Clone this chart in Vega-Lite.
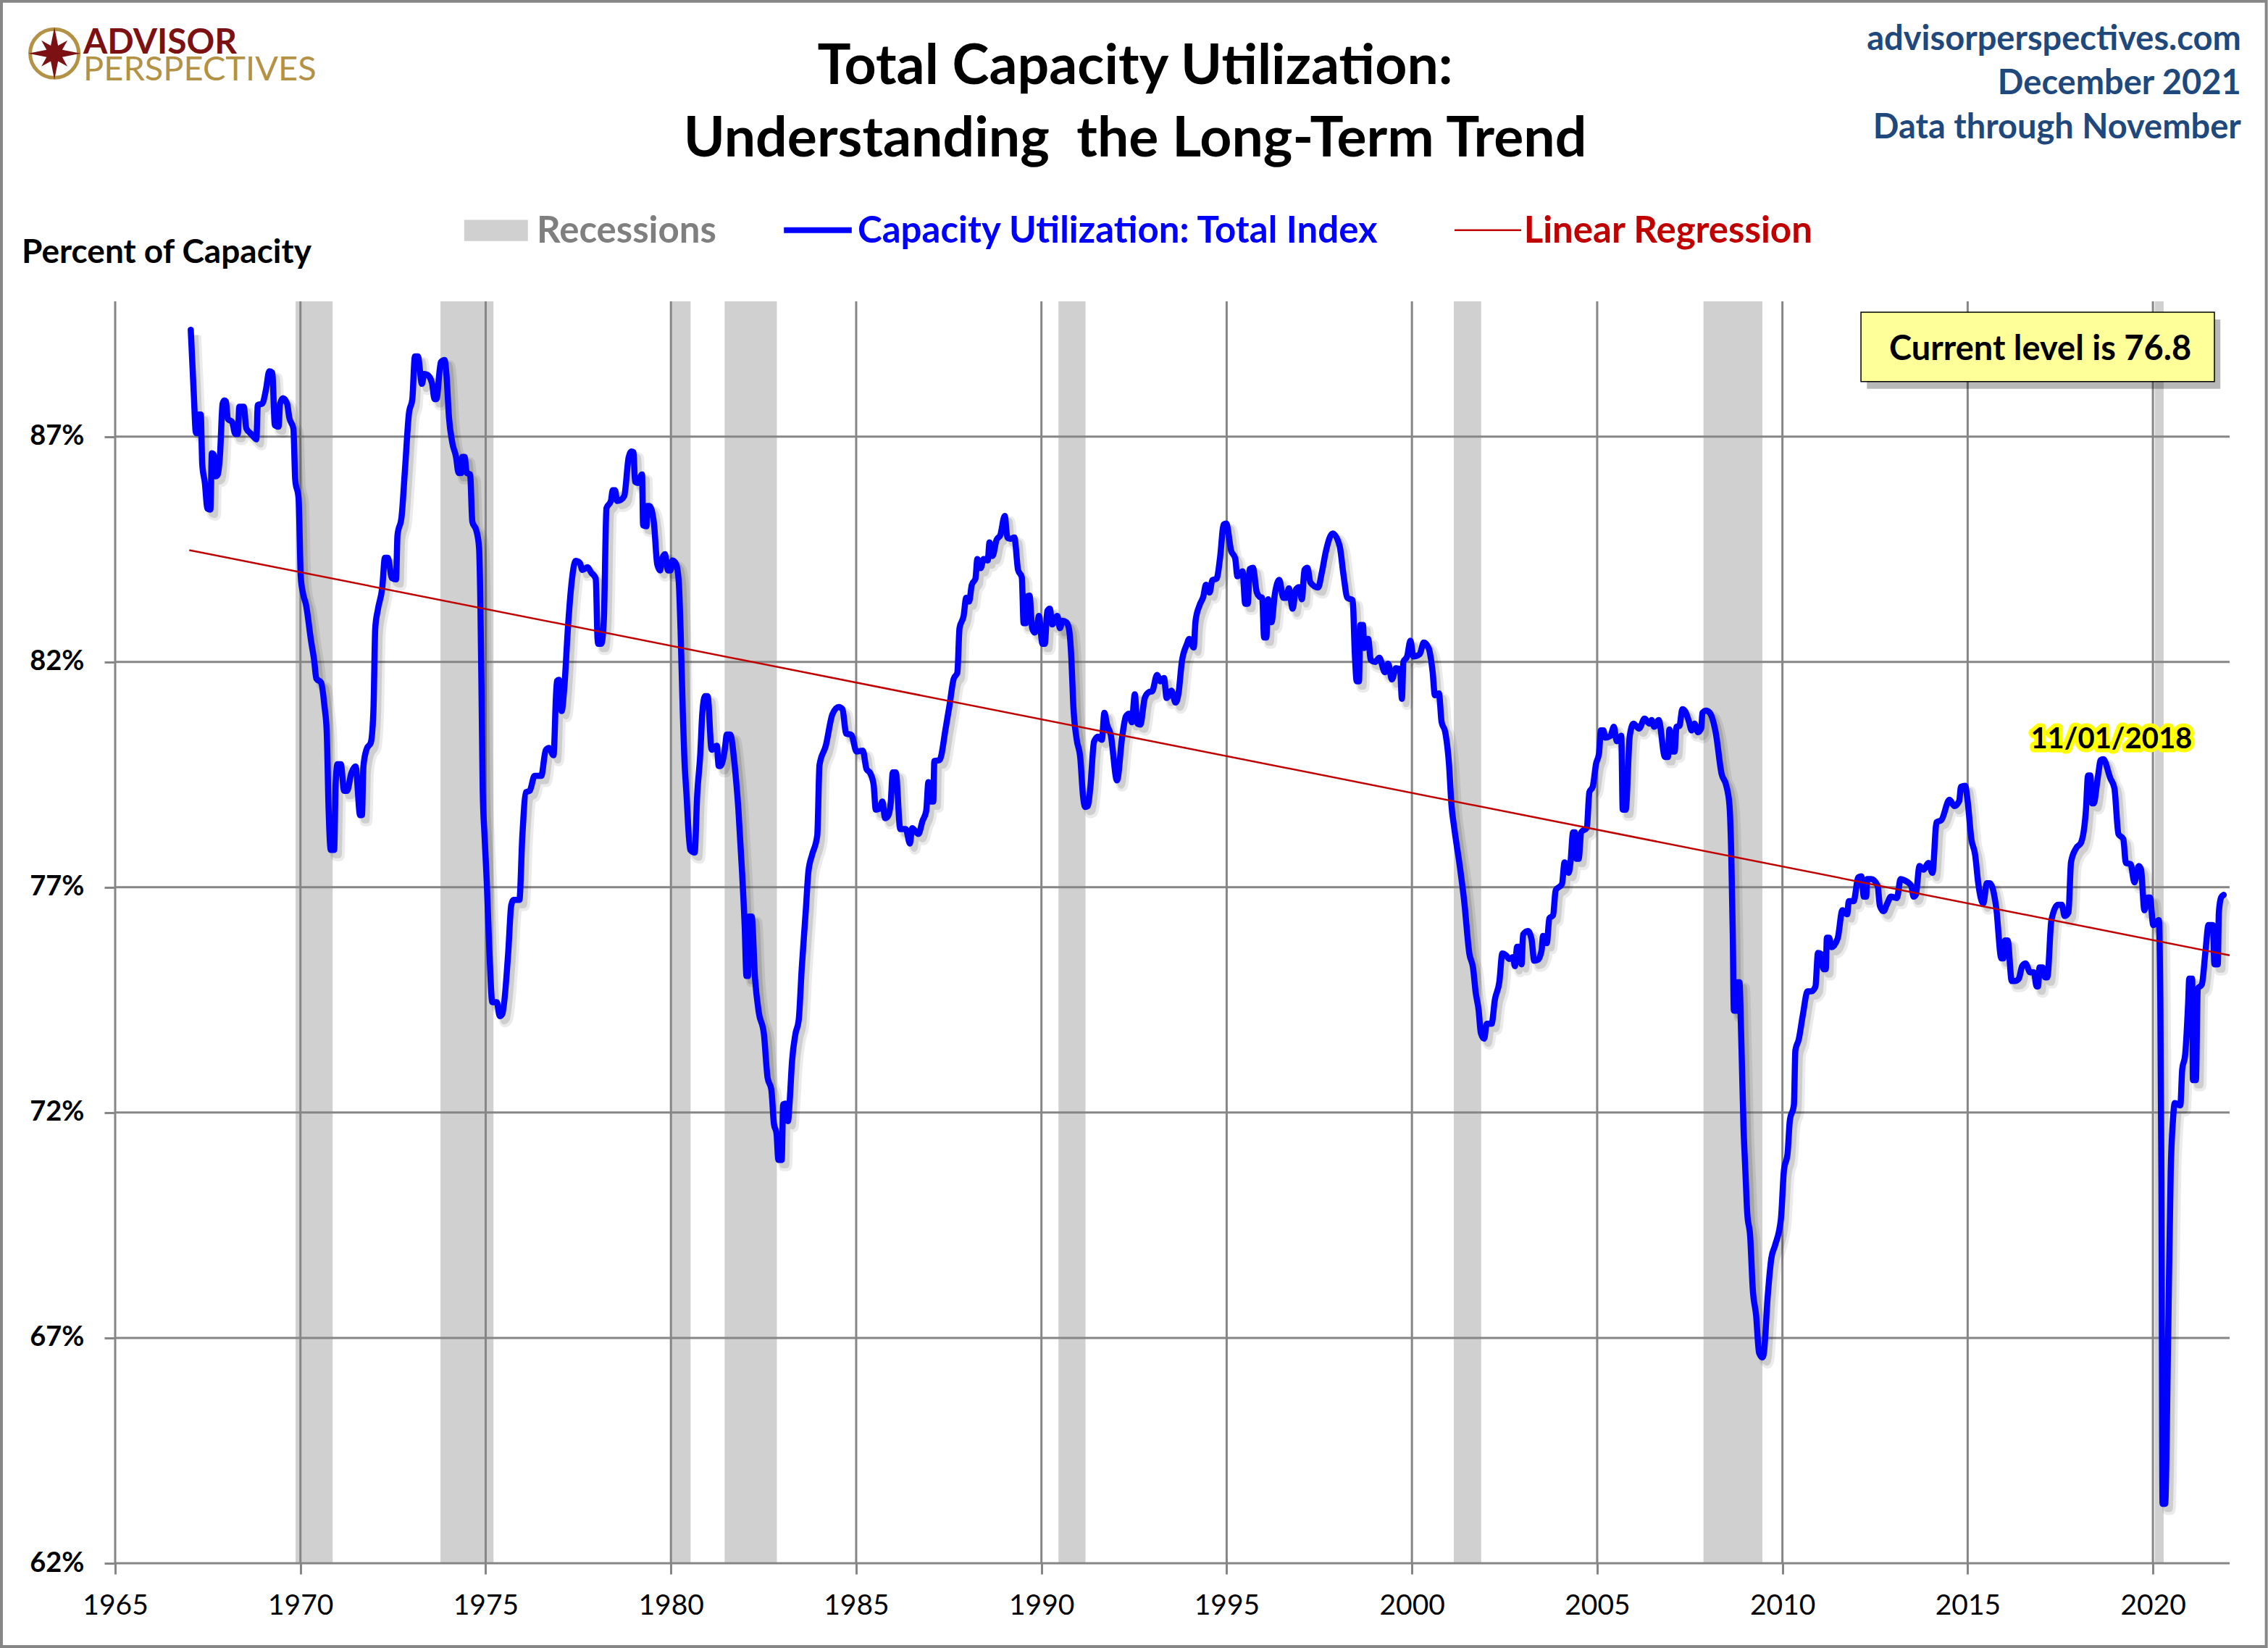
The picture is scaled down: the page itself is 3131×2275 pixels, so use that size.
{
"$schema":"https://vega.github.io/schema/vega-lite/v6.json",
"width":2919,"height":1742,
"autosize":"none",
"padding":{"left":159,"top":416,"right":53,"bottom":117},
"background":"#ffffff",
"config":{"view":{"stroke":null},"text":{"font":"Lato"},"axis":{"labelFont":"Lato"}},
"data":{"values":[{}]},
"datasets":{
"capacity":[
{"year":1967.04,"util":89.37},{"year":1967.12,"util":87.98},{"year":1967.18,"util":87.08},{"year":1967.24,"util":87.08},{"year":1967.26,"util":87.49},{"year":1967.31,"util":87.49},{"year":1967.35,"util":86.39},{"year":1967.42,"util":85.98},{"year":1967.49,"util":85.4},{"year":1967.57,"util":85.38},{"year":1967.61,"util":86.63},{"year":1967.66,"util":86.6},{"year":1967.71,"util":86.12},{"year":1967.77,"util":86.16},{"year":1967.83,"util":86.6},{"year":1967.9,"util":87.73},{"year":1967.95,"util":87.8},{"year":1967.99,"util":87.78},{"year":1968.04,"util":87.39},{"year":1968.16,"util":87.32},{"year":1968.24,"util":87.06},{"year":1968.31,"util":87.06},{"year":1968.35,"util":87.66},{"year":1968.47,"util":87.66},{"year":1968.54,"util":87.18},{"year":1968.64,"util":87.08},{"year":1968.72,"util":87.01},{"year":1968.81,"util":86.94},{"year":1968.85,"util":87.7},{"year":1968.97,"util":87.73},{"year":1969.07,"util":88.04},{"year":1969.16,"util":88.45},{"year":1969.24,"util":88.42},{"year":1969.31,"util":87.25},{"year":1969.41,"util":87.22},{"year":1969.45,"util":87.73},{"year":1969.53,"util":87.85},{"year":1969.64,"util":87.73},{"year":1969.7,"util":87.42},{"year":1969.81,"util":87.18},{"year":1969.86,"util":86.04},{"year":1969.95,"util":85.63},{"year":1970.01,"util":83.88},{"year":1970.07,"util":83.52},{"year":1970.15,"util":83.27},{"year":1970.29,"util":82.45},{"year":1970.37,"util":82.04},{"year":1970.43,"util":81.63},{"year":1970.56,"util":81.54},{"year":1970.65,"util":81.01},{"year":1970.71,"util":80.45},{"year":1970.76,"util":78.75},{"year":1970.82,"util":77.83},{"year":1970.91,"util":77.83},{"year":1970.95,"util":79.27},{"year":1971.0,"util":79.73},{"year":1971.09,"util":79.73},{"year":1971.18,"util":79.14},{"year":1971.26,"util":79.14},{"year":1971.37,"util":79.52},{"year":1971.49,"util":79.68},{"year":1971.61,"util":78.6},{"year":1971.66,"util":78.6},{"year":1971.7,"util":79.68},{"year":1971.79,"util":80.07},{"year":1971.9,"util":80.21},{"year":1971.97,"util":80.91},{"year":1972.02,"util":82.75},{"year":1972.09,"util":83.16},{"year":1972.21,"util":83.66},{"year":1972.28,"util":84.31},{"year":1972.36,"util":84.31},{"year":1972.47,"util":83.86},{"year":1972.58,"util":83.83},{"year":1972.62,"util":84.81},{"year":1972.73,"util":85.22},{"year":1972.82,"util":86.24},{"year":1972.93,"util":87.52},{"year":1973.02,"util":87.83},{"year":1973.09,"util":88.78},{"year":1973.17,"util":88.78},{"year":1973.28,"util":88.17},{"year":1973.34,"util":88.39},{"year":1973.43,"util":88.37},{"year":1973.55,"util":88.19},{"year":1973.62,"util":87.83},{"year":1973.67,"util":87.83},{"year":1973.79,"util":88.65},{"year":1973.89,"util":88.7},{"year":1973.94,"util":88.39},{"year":1974.01,"util":87.42},{"year":1974.1,"util":86.86},{"year":1974.2,"util":86.55},{"year":1974.27,"util":86.19},{"year":1974.34,"util":86.19},{"year":1974.37,"util":86.55},{"year":1974.43,"util":86.55},{"year":1974.49,"util":86.19},{"year":1974.58,"util":86.16},{"year":1974.64,"util":85.11},{"year":1974.75,"util":84.91},{"year":1974.82,"util":84.55},{"year":1974.86,"util":83.16},{"year":1974.89,"util":81.22},{"year":1974.92,"util":79.16},{"year":1974.97,"util":78.14},{"year":1975.03,"util":77.11},{"year":1975.1,"util":75.57},{"year":1975.18,"util":74.45},{"year":1975.3,"util":74.45},{"year":1975.38,"util":74.14},{"year":1975.45,"util":74.19},{"year":1975.61,"util":75.57},{"year":1975.69,"util":76.6},{"year":1975.75,"util":76.72},{"year":1975.91,"util":76.72},{"year":1975.99,"util":78.14},{"year":1976.09,"util":79.11},{"year":1976.19,"util":79.14},{"year":1976.32,"util":79.47},{"year":1976.5,"util":79.47},{"year":1976.62,"util":80.04},{"year":1976.71,"util":80.09},{"year":1976.83,"util":79.93},{"year":1976.92,"util":81.57},{"year":1976.98,"util":81.6},{"year":1977.05,"util":80.91},{"year":1977.12,"util":81.4},{"year":1977.22,"util":82.75},{"year":1977.3,"util":83.6},{"year":1977.43,"util":84.24},
{"year":1977.54,"util":84.2},{"year":1977.61,"util":84.04},{"year":1977.75,"util":84.1},{"year":1977.85,"util":83.98},{"year":1977.97,"util":83.85},{"year":1978.02,"util":82.51},{"year":1978.04,"util":82.4},{"year":1978.12,"util":82.4},{"year":1978.19,"util":82.94},{"year":1978.26,"util":85.41},{"year":1978.38,"util":85.57},{"year":1978.43,"util":85.81},{"year":1978.49,"util":85.81},{"year":1978.55,"util":85.57},{"year":1978.64,"util":85.59},{"year":1978.74,"util":85.68},{"year":1978.86,"util":86.54},{"year":1978.93,"util":86.67},{"year":1978.99,"util":86.65},{"year":1979.03,"util":86.0},{"year":1979.1,"util":85.97},{"year":1979.22,"util":86.16},{"year":1979.25,"util":85.03},{"year":1979.34,"util":85.01},{"year":1979.36,"util":85.46},{"year":1979.42,"util":85.46},{"year":1979.54,"util":85.09},{"year":1979.63,"util":84.17},{"year":1979.71,"util":84.03},{"year":1979.75,"util":84.25},{"year":1979.84,"util":84.39},{"year":1979.92,"util":84.03},{"year":1979.99,"util":84.03},{"year":1980.04,"util":84.25},{"year":1980.14,"util":84.17},{"year":1980.21,"util":83.8},{"year":1980.26,"util":82.72},{"year":1980.32,"util":80.89},{"year":1980.36,"util":79.92},{"year":1980.42,"util":79.06},{"year":1980.52,"util":77.83},{"year":1980.64,"util":77.77},{"year":1980.71,"util":79.06},{"year":1980.79,"util":79.92},{"year":1980.85,"util":80.89},{"year":1980.92,"util":81.24},{"year":1980.99,"util":81.24},{"year":1981.1,"util":80.05},{"year":1981.24,"util":80.14},{"year":1981.29,"util":79.69},{"year":1981.34,"util":79.69},{"year":1981.45,"util":80.03},{"year":1981.51,"util":80.39},{"year":1981.6,"util":80.39},{"year":1981.72,"util":79.71},{"year":1981.82,"util":78.74},{"year":1981.92,"util":77.34},{"year":1981.99,"util":76.16},{"year":1982.04,"util":75.03},{"year":1982.08,"util":75.03},{"year":1982.11,"util":76.35},{"year":1982.18,"util":76.35},{"year":1982.27,"util":74.98},{"year":1982.37,"util":74.23},{"year":1982.51,"util":73.74},{"year":1982.61,"util":72.77},{"year":1982.71,"util":72.51},{"year":1982.78,"util":71.75},{"year":1982.85,"util":71.54},{"year":1982.9,"util":70.95},{"year":1982.99,"util":70.95},{"year":1983.03,"util":72.18},{"year":1983.09,"util":72.2},{"year":1983.16,"util":71.81},{"year":1983.2,"util":72.18},{"year":1983.27,"util":73.15},{"year":1983.36,"util":73.74},{"year":1983.45,"util":74.06},{"year":1983.53,"util":75.19},{"year":1983.64,"util":76.48},{"year":1983.71,"util":77.34},{"year":1983.81,"util":77.72},{"year":1983.95,"util":78.15},{"year":1984.01,"util":79.71},{"year":1984.18,"util":80.14},{"year":1984.36,"util":80.84},{"year":1984.53,"util":81.0},{"year":1984.63,"util":80.95},{"year":1984.73,"util":80.41},{"year":1984.87,"util":80.38},{"year":1985.01,"util":80.01},{"year":1985.18,"util":80.03},{"year":1985.28,"util":79.62},{"year":1985.38,"util":79.53},{"year":1985.47,"util":79.28},{"year":1985.53,"util":78.72},{"year":1985.62,"util":78.74},{"year":1985.71,"util":78.9},{"year":1985.78,"util":78.53},{"year":1985.86,"util":78.58},{"year":1985.93,"util":78.85},{"year":1985.99,"util":79.55},{"year":1986.07,"util":79.55},{"year":1986.19,"util":78.29},{"year":1986.34,"util":78.29},{"year":1986.45,"util":77.97},{"year":1986.51,"util":78.31},{"year":1986.68,"util":78.18},{"year":1986.79,"util":78.47},{"year":1986.89,"util":78.69},{"year":1986.95,"util":79.33},{"year":1987.03,"util":78.9},{"year":1987.08,"util":78.9},{"year":1987.11,"util":79.8},{"year":1987.25,"util":79.82},
{"year":1987.42,"util":80.55},{"year":1987.52,"util":81.04},{"year":1987.63,"util":81.62},{"year":1987.73,"util":81.76},{"year":1987.79,"util":82.75},{"year":1987.9,"util":83.02},{"year":1987.97,"util":83.42},{"year":1988.05,"util":83.34},{"year":1988.12,"util":83.71},{"year":1988.22,"util":83.85},{"year":1988.27,"util":84.28},{"year":1988.36,"util":84.08},{"year":1988.44,"util":84.28},{"year":1988.55,"util":84.25},{"year":1988.6,"util":84.65},{"year":1988.68,"util":84.35},{"year":1988.79,"util":84.71},{"year":1988.89,"util":84.81},{"year":1989.01,"util":85.24},{"year":1989.08,"util":84.76},{"year":1989.16,"util":84.73},{"year":1989.27,"util":84.76},{"year":1989.37,"util":84.04},{"year":1989.47,"util":83.88},{"year":1989.52,"util":82.86},{"year":1989.58,"util":82.86},{"year":1989.61,"util":83.45},{"year":1989.68,"util":83.47},{"year":1989.75,"util":82.75},{"year":1989.82,"util":82.65},{"year":1989.88,"util":82.75},{"year":1989.93,"util":83.02},{"year":1990.03,"util":82.4},{"year":1990.09,"util":82.4},{"year":1990.16,"util":83.13},{"year":1990.23,"util":83.18},{"year":1990.29,"util":82.83},{"year":1990.43,"util":83.02},{"year":1990.5,"util":82.75},{"year":1990.57,"util":82.91},{"year":1990.67,"util":82.88},{"year":1990.74,"util":82.75},{"year":1990.81,"util":82.05},{"year":1990.86,"util":81.04},{"year":1990.95,"util":80.29},{"year":1991.05,"util":79.86},{"year":1991.12,"util":79.05},{"year":1991.18,"util":78.78},{"year":1991.25,"util":78.8},{"year":1991.32,"util":79.21},{"year":1991.42,"util":80.23},{"year":1991.53,"util":80.34},{"year":1991.63,"util":80.27},{"year":1991.7,"util":80.87},{"year":1991.77,"util":80.61},{"year":1991.87,"util":80.39},{"year":1992.04,"util":79.37},{"year":1992.18,"util":80.34},{"year":1992.28,"util":80.79},{"year":1992.37,"util":80.85},{"year":1992.44,"util":80.66},{"year":1992.52,"util":81.28},{"year":1992.59,"util":80.63},{"year":1992.67,"util":80.61},{"year":1992.79,"util":81.2},{"year":1992.9,"util":81.33},{"year":1992.99,"util":81.35},{"year":1993.12,"util":81.71},{"year":1993.21,"util":81.57},{"year":1993.31,"util":81.64},{"year":1993.38,"util":81.2},{"year":1993.51,"util":81.36},{"year":1993.62,"util":81.1},{"year":1993.7,"util":81.3},{"year":1993.79,"util":82.0},{"year":1993.92,"util":82.38},{"year":1993.99,"util":82.51},{"year":1994.11,"util":82.32},{"year":1994.16,"util":82.91},{"year":1994.27,"util":83.26},{"year":1994.37,"util":83.45},{"year":1994.44,"util":83.71},{"year":1994.54,"util":83.54},{"year":1994.61,"util":83.81},{"year":1994.73,"util":83.85},{"year":1994.82,"util":84.3},{"year":1994.92,"util":85.05},{"year":1994.99,"util":85.07},{"year":1995.12,"util":84.47},{"year":1995.23,"util":84.3},{"year":1995.29,"util":83.9},{"year":1995.43,"util":84.01},{"year":1995.5,"util":83.29},{"year":1995.57,"util":83.29},{"year":1995.62,"util":84.06},{"year":1995.71,"util":84.09},{"year":1995.81,"util":83.55},{"year":1995.88,"util":83.45},{"year":1995.96,"util":83.42},{"year":1996.01,"util":82.54},{"year":1996.07,"util":82.54},{"year":1996.12,"util":83.39},{"year":1996.21,"util":82.88},{"year":1996.3,"util":83.5},{"year":1996.42,"util":83.82},{"year":1996.53,"util":83.42},{"year":1996.6,"util":83.42},{"year":1996.68,"util":83.63},{"year":1996.78,"util":83.18},{"year":1996.87,"util":83.61},{"year":1996.96,"util":83.66},{"year":1997.03,"util":83.39},{"year":1997.1,"util":84.04},{"year":1997.18,"util":84.09},
{"year":1997.26,"util":83.76},{"year":1997.47,"util":83.65},{"year":1997.57,"util":83.99},{"year":1997.68,"util":84.46},{"year":1997.86,"util":84.85},{"year":1998.05,"util":84.57},{"year":1998.15,"util":83.95},{"year":1998.26,"util":83.42},{"year":1998.4,"util":83.37},{"year":1998.46,"util":82.16},{"year":1998.51,"util":81.57},{"year":1998.57,"util":81.57},{"year":1998.61,"util":82.82},{"year":1998.68,"util":82.82},{"year":1998.71,"util":82.31},{"year":1998.77,"util":82.51},{"year":1998.82,"util":82.51},{"year":1998.89,"util":82.04},{"year":1999.01,"util":82.0},{"year":1999.12,"util":82.09},{"year":1999.27,"util":81.77},{"year":1999.36,"util":81.96},{"year":1999.46,"util":81.61},{"year":1999.57,"util":81.86},{"year":1999.68,"util":81.84},{"year":1999.73,"util":81.18},{"year":1999.77,"util":82.0},{"year":1999.87,"util":82.12},{"year":1999.96,"util":82.47},{"year":2000.04,"util":82.12},{"year":2000.21,"util":82.17},{"year":2000.32,"util":82.43},{"year":2000.45,"util":82.31},{"year":2000.56,"util":81.77},{"year":2000.62,"util":81.26},{"year":2000.73,"util":81.3},{"year":2000.8,"util":80.67},{"year":2000.9,"util":80.44},{"year":2001.0,"util":79.74},{"year":2001.07,"util":78.8},{"year":2001.14,"util":78.33},{"year":2001.29,"util":77.48},{"year":2001.41,"util":76.7},{"year":2001.55,"util":75.53},{"year":2001.65,"util":75.21},{"year":2001.72,"util":74.67},{"year":2001.8,"util":74.28},{"year":2001.86,"util":73.77},{"year":2001.95,"util":73.64},{"year":2002.02,"util":73.97},{"year":2002.15,"util":73.97},{"year":2002.24,"util":74.51},{"year":2002.36,"util":74.9},{"year":2002.44,"util":75.53},{"year":2002.54,"util":75.49},{"year":2002.63,"util":75.41},{"year":2002.73,"util":75.45},{"year":2002.78,"util":75.25},{"year":2002.84,"util":75.68},{"year":2002.91,"util":75.68},{"year":2002.96,"util":75.29},{"year":2003.0,"util":75.95},{"year":2003.13,"util":76.03},{"year":2003.23,"util":75.84},{"year":2003.3,"util":75.37},{"year":2003.4,"util":75.39},{"year":2003.5,"util":75.6},{"year":2003.54,"util":75.92},{"year":2003.64,"util":75.76},{"year":2003.71,"util":76.31},{"year":2003.81,"util":76.38},{"year":2003.88,"util":76.93},{"year":2004.05,"util":77.07},{"year":2004.12,"util":77.55},{"year":2004.23,"util":77.32},{"year":2004.28,"util":77.55},{"year":2004.35,"util":78.22},{"year":2004.4,"util":78.22},{"year":2004.44,"util":77.63},{"year":2004.5,"util":77.63},{"year":2004.57,"util":78.22},{"year":2004.72,"util":78.32},{"year":2004.79,"util":79.11},{"year":2004.88,"util":79.23},{"year":2004.97,"util":79.74},{"year":2005.05,"util":79.97},{"year":2005.1,"util":80.48},{"year":2005.17,"util":80.48},{"year":2005.22,"util":80.32},{"year":2005.36,"util":80.36},{"year":2005.45,"util":80.56},{"year":2005.53,"util":80.24},{"year":2005.65,"util":80.36},{"year":2005.69,"util":78.72},{"year":2005.77,"util":78.72},{"year":2005.88,"util":80.36},{"year":2005.98,"util":80.63},{"year":2006.13,"util":80.52},{"year":2006.28,"util":80.74},{"year":2006.41,"util":80.63},{"year":2006.47,"util":80.71},{"year":2006.54,"util":80.56},{"year":2006.66,"util":80.71},{"year":2006.83,"util":79.89},{"year":2006.91,"util":79.89},{"year":2006.95,"util":80.5},{"year":2007.03,"util":80.01},{"year":2007.09,"util":80.01},{"year":2007.14,"util":80.56},{"year":2007.22,"util":80.58},{"year":2007.3,"util":80.95},{"year":2007.37,"util":80.91},{"year":2007.48,"util":80.67},{"year":2007.55,"util":80.48},{"year":2007.63,"util":80.63},{"year":2007.72,"util":80.44},{"year":2007.81,"util":80.53},
{"year":2007.84,"util":80.87},{"year":2007.94,"util":80.92},{"year":2008.04,"util":80.87},{"year":2008.2,"util":80.43},{"year":2008.36,"util":79.51},{"year":2008.48,"util":79.27},{"year":2008.57,"util":78.83},{"year":2008.62,"util":77.71},{"year":2008.66,"util":75.96},{"year":2008.69,"util":74.26},{"year":2008.76,"util":74.26},{"year":2008.79,"util":74.89},{"year":2008.84,"util":74.89},{"year":2008.89,"util":73.62},{"year":2008.95,"util":71.68},{"year":2009.0,"util":70.71},{"year":2009.05,"util":69.78},{"year":2009.13,"util":69.25},{"year":2009.2,"util":68.08},{"year":2009.29,"util":67.5},{"year":2009.37,"util":66.67},{"year":2009.46,"util":66.57},{"year":2009.5,"util":66.67},{"year":2009.6,"util":67.89},{"year":2009.7,"util":68.76},{"year":2009.8,"util":69.05},{"year":2009.96,"util":69.64},{"year":2010.04,"util":70.71},{"year":2010.14,"util":71.1},{"year":2010.2,"util":71.82},{"year":2010.31,"util":72.17},{"year":2010.35,"util":73.38},{"year":2010.44,"util":73.62},{"year":2010.55,"util":74.16},{"year":2010.68,"util":74.69},{"year":2010.78,"util":74.69},{"year":2010.89,"util":74.79},{"year":2010.96,"util":75.54},{"year":2011.04,"util":75.52},{"year":2011.11,"util":75.18},{"year":2011.17,"util":75.18},{"year":2011.2,"util":75.88},{"year":2011.26,"util":75.88},{"year":2011.33,"util":75.67},{"year":2011.49,"util":75.86},{"year":2011.62,"util":76.49},{"year":2011.75,"util":76.4},{"year":2011.79,"util":76.69},{"year":2011.92,"util":76.69},{"year":2012.05,"util":77.22},{"year":2012.13,"util":77.24},{"year":2012.2,"util":76.79},{"year":2012.26,"util":76.79},{"year":2012.29,"util":77.18},{"year":2012.4,"util":77.18},{"year":2012.57,"util":77.03},{"year":2012.63,"util":76.59},{"year":2012.73,"util":76.47},{"year":2012.83,"util":76.64},{"year":2012.93,"util":76.79},{"year":2013.09,"util":76.76},{"year":2013.19,"util":77.18},{"year":2013.28,"util":77.16},{"year":2013.48,"util":77.03},{"year":2013.54,"util":76.79},{"year":2013.6,"util":76.83},{"year":2013.7,"util":77.47},{"year":2013.81,"util":77.39},{"year":2013.94,"util":77.54},{"year":2014.05,"util":77.32},
{"year":2014.16,"util":78.44},{"year":2014.29,"util":78.49},{"year":2014.51,"util":78.94},{"year":2014.64,"util":78.8},{"year":2014.77,"util":78.91},{"year":2014.82,"util":79.23},{"year":2014.93,"util":79.25},{"year":2015.0,"util":78.91},{"year":2015.1,"util":78.07},{"year":2015.2,"util":77.73},{"year":2015.29,"util":77.06},{"year":2015.42,"util":76.64},{"year":2015.52,"util":77.09},{"year":2015.6,"util":77.09},{"year":2015.77,"util":76.55},{"year":2015.91,"util":75.42},{"year":2015.96,"util":75.42},{"year":2016.01,"util":75.82},{"year":2016.08,"util":75.82},{"year":2016.19,"util":74.92},{"year":2016.29,"util":74.92},{"year":2016.38,"util":74.97},{"year":2016.47,"util":75.25},{"year":2016.56,"util":75.31},{"year":2016.69,"util":75.11},{"year":2016.79,"util":75.11},{"year":2016.86,"util":74.8},{"year":2016.9,"util":74.8},{"year":2016.94,"util":75.22},{"year":2017.02,"util":75.22},{"year":2017.09,"util":75.0},{"year":2017.15,"util":75.0},{"year":2017.26,"util":76.27},{"year":2017.44,"util":76.61},{"year":2017.54,"util":76.61},{"year":2017.62,"util":76.36},{"year":2017.72,"util":76.44},{"year":2017.79,"util":77.56},{"year":2017.93,"util":77.87},{"year":2018.06,"util":77.99},{"year":2018.19,"util":78.69},{"year":2018.25,"util":79.48},{"year":2018.31,"util":79.48},{"year":2018.36,"util":78.86},{"year":2018.4,"util":78.86},{"year":2018.52,"util":79.48},{"year":2018.59,"util":79.82},{"year":2018.66,"util":79.84},{"year":2018.85,"util":79.42},{"year":2018.96,"util":79.2},{"year":2019.07,"util":78.18},{"year":2019.2,"util":78.07},{"year":2019.27,"util":77.54},{"year":2019.4,"util":77.51},{"year":2019.5,"util":77.11},{"year":2019.62,"util":77.47},{"year":2019.68,"util":77.39},{"year":2019.77,"util":76.49},{"year":2019.86,"util":76.77},{"year":2019.92,"util":76.77},{"year":2020.01,"util":76.16},{"year":2020.16,"util":76.27},{"year":2020.2,"util":74.41},{"year":2020.23,"util":70.47},{"year":2020.26,"util":63.32},{"year":2020.33,"util":63.32},{"year":2020.41,"util":66.98},{"year":2020.48,"util":70.69},{"year":2020.54,"util":71.82},{"year":2020.59,"util":72.21},{"year":2020.74,"util":72.16},{"year":2020.79,"util":72.95},{"year":2020.87,"util":73.28},{"year":2020.95,"util":74.41},{"year":2020.98,"util":74.97},{"year":2021.06,"util":74.97},{"year":2021.08,"util":72.72},{"year":2021.16,"util":72.72},{"year":2021.21,"util":74.75},{"year":2021.32,"util":74.84},{"year":2021.42,"util":75.59},{"year":2021.5,"util":76.16},{"year":2021.62,"util":76.16},{"year":2021.66,"util":75.29},{"year":2021.75,"util":75.29},{"year":2021.78,"util":76.44},{"year":2021.84,"util":76.77},{"year":2021.91,"util":76.83}
],
"recessions":[
{"start":1969.87,"end":1970.87},{"start":1973.78,"end":1975.21},{"start":1979.98,"end":1980.53},{"start":1981.45,"end":1982.86},{"start":1990.46,"end":1991.19},{"start":2001.13,"end":2001.87},{"start":2007.87,"end":2009.46},{"start":2020.05,"end":2020.29}
],
"regression":[{"year":1967.0,"util":84.48},{"year":2022.07,"util":75.49}],
"years":[{"year":1965},{"year":1970},{"year":1975},{"year":1980},{"year":1985},{"year":1990},{"year":1995},{"year":2000},{"year":2005},{"year":2010},{"year":2015},{"year":2020}],
"levels":[{"util":62},{"util":67},{"util":72},{"util":77},{"util":82},{"util":87}]
},
"layer":[
{"data":{"name":"recessions"},"mark":{"type":"rect","color":"#d0d0d0"},
 "encoding":{"x":{"field":"start","type":"quantitative","scale":{"domain":[1965,2022.07],"nice":false,"zero":false},
   "axis":{"values":[1965,1970,1975,1980,1985,1990,1995,2000,2005,2010,2015,2020],"format":"d","title":null,"grid":false,"domain":false,"tickColor":"#868686","tickWidth":3,"tickSize":15,"labelFontSize":39,"labelColor":"#000000","labelPadding":24,"labelFlush":false,"labelFont":"Lato"}},
  "x2":{"field":"end"},
  "y":{"datum":62,"type":"quantitative","scale":{"domain":[62,90],"nice":false,"zero":false},
   "axis":{"values":[62,67,72,77,82,87],"labelExpr":"datum.value + '%'","title":null,"grid":false,"domain":false,"tickColor":"#868686","tickWidth":3,"tickSize":15,"labelFontSize":38,"labelFontWeight":"bold","labelColor":"#000000","labelPadding":28,"labelFont":"Lato"}},
  "y2":{"datum":90}}},
{"data":{"name":"levels"},"mark":{"type":"rule","color":"#868686","strokeWidth":3},
 "encoding":{"y":{"field":"util","type":"quantitative"},"x":{"datum":1965,"type":"quantitative"},"x2":{"datum":2022.07}}},
{"data":{"name":"years"},"mark":{"type":"rule","color":"#868686","strokeWidth":3},
 "encoding":{"x":{"field":"year","type":"quantitative"},"y":{"datum":62,"type":"quantitative"},"y2":{"datum":90}}},
{"data":{"name":"capacity"},"mark":{"type":"line","color":"#000000","opacity":0.08,"strokeWidth":15,"xOffset":7,"yOffset":8,"strokeJoin":"round","interpolate":"monotone"},
 "encoding":{"x":{"field":"year","type":"quantitative"},"y":{"field":"util","type":"quantitative"}}},
{"data":{"name":"capacity"},"mark":{"type":"line","color":"#000000","opacity":0.12,"strokeWidth":9,"xOffset":6,"yOffset":7,"strokeJoin":"round","interpolate":"monotone"},
 "encoding":{"x":{"field":"year","type":"quantitative"},"y":{"field":"util","type":"quantitative"}}},
{"data":{"name":"capacity"},"mark":{"type":"line","color":"#0000ff","strokeWidth":8.5,"strokeJoin":"round","strokeCap":"round","interpolate":"monotone"},
 "encoding":{"x":{"field":"year","type":"quantitative"},"y":{"field":"util","type":"quantitative"}}},
{"data":{"name":"regression"},"mark":{"type":"line","color":"#c00000","strokeWidth":2.5},
 "encoding":{"x":{"field":"year","type":"quantitative"},"y":{"field":"util","type":"quantitative"}}},
{"mark":{"type":"rect","fillOpacity":0,"stroke":"#868686","strokeWidth":4},
 "encoding":{"x":{"datum":1961.93,"type":"quantitative"},"x2":{"datum":2023.06},"y":{"datum":96.66,"type":"quantitative"},"y2":{"datum":60.15}}},
{"mark":{"type":"rect","color":"#000000","opacity":0.28},
 "encoding":{"x":{"datum":2012.28,"type":"quantitative"},"x2":{"datum":2021.82},"y":{"datum":89.6,"type":"quantitative"},"y2":{"datum":88.06}}},
{"mark":{"type":"rect","fill":"#ffff99","stroke":"#000000","strokeWidth":1.5},
 "encoding":{"x":{"datum":2012.12,"type":"quantitative"},"x2":{"datum":2021.66},"y":{"datum":89.76,"type":"quantitative"},"y2":{"datum":88.22}}},
{"mark":{"type":"text","fontSize":47,"fontWeight":"bold","color":"#000000","align":"center","baseline":"middle"},
 "encoding":{"x":{"datum":2016.96,"type":"quantitative"},"y":{"datum":88.92,"type":"quantitative"},"text":{"value":"Current level is 76.8"}}},
{"mark":{"type":"text","fontSize":40,"fontWeight":"bold","stroke":"#ffff00","strokeWidth":11,"strokeJoin":"round","align":"center","baseline":"middle"},
 "encoding":{"x":{"datum":2018.88,"type":"quantitative"},"y":{"datum":80.27,"type":"quantitative"},"text":{"value":"11/01/2018"}}},
{"mark":{"type":"text","fontSize":40,"fontWeight":"bold","color":"#000000","align":"center","baseline":"middle"},
 "encoding":{"x":{"datum":2018.88,"type":"quantitative"},"y":{"datum":80.27,"type":"quantitative"},"text":{"value":"11/01/2018"}}},
{"mark":{"type":"text","fontSize":77,"fontWeight":"bold","color":"#000000","align":"center","baseline":"middle","lineHeight":100},
 "encoding":{"x":{"datum":1992.53,"type":"quantitative"},"y":{"datum":95.19,"type":"quantitative"},"text":{"value":["Total Capacity Utilization:","Understanding\u00a0 the Long-Term Trend"]}}},
{"mark":{"type":"text","fontSize":47,"fontWeight":"bold","color":"#1f497d","align":"right","baseline":"middle","lineHeight":61},
 "encoding":{"x":{"datum":2022.38,"type":"quantitative"},"y":{"datum":95.8,"type":"quantitative"},"text":{"value":["advisorperspectives.com","December 2021","Data through November"]}}},
{"mark":{"type":"text","fontSize":46,"fontWeight":"bold","color":"#000000","align":"left","baseline":"middle"},
 "encoding":{"x":{"datum":1962.48,"type":"quantitative"},"y":{"datum":91.07,"type":"quantitative"},"text":{"value":"Percent of Capacity"}}},
{"mark":{"type":"rect","color":"#d0d0d0"},
 "encoding":{"x":{"datum":1974.42,"type":"quantitative"},"x2":{"datum":1976.14},"y":{"datum":91.81,"type":"quantitative"},"y2":{"datum":91.34}}},
{"mark":{"type":"text","fontSize":51,"fontWeight":"bold","color":"#7f7f7f","align":"left","baseline":"middle"},
 "encoding":{"x":{"datum":1976.38,"type":"quantitative"},"y":{"datum":91.55,"type":"quantitative"},"text":{"value":"Recessions"}}},
{"mark":{"type":"rule","color":"#0000ff","strokeWidth":8},
 "encoding":{"x":{"datum":1983.05,"type":"quantitative"},"x2":{"datum":1984.88},"y":{"datum":91.58,"type":"quantitative"}}},
{"mark":{"type":"text","fontSize":51,"fontWeight":"bold","color":"#0000ff","align":"left","baseline":"middle"},
 "encoding":{"x":{"datum":1985.04,"type":"quantitative"},"y":{"datum":91.55,"type":"quantitative"},"text":{"value":"Capacity Utilization: Total Index"}}},
{"mark":{"type":"rule","color":"#c00000","strokeWidth":2.5},
 "encoding":{"x":{"datum":2001.15,"type":"quantitative"},"x2":{"datum":2002.95},"y":{"datum":91.58,"type":"quantitative"}}},
{"mark":{"type":"text","fontSize":51,"fontWeight":"bold","color":"#c00000","align":"left","baseline":"middle"},
 "encoding":{"x":{"datum":2003.02,"type":"quantitative"},"y":{"datum":91.55,"type":"quantitative"},"text":{"value":"Linear Regression"}}},
{"mark":{"type":"point","filled":false,"shape":"circle","size":4489,"stroke":"#b39145","strokeWidth":5,"opacity":1},
 "encoding":{"x":{"datum":1963.36,"type":"quantitative"},"y":{"datum":95.5,"type":"quantitative"}}},
{"mark":{"type":"point","filled":true,"shape":"M0,-1 L0.14,-0.3 L0.5,-0.5 L0.3,-0.14 L1,0 L0.3,0.14 L0.5,0.5 L0.14,0.3 L0,1 L-0.14,0.3 L-0.5,0.5 L-0.3,0.14 L-1,0 L-0.3,-0.14 L-0.5,-0.5 L-0.14,-0.3 Z","size":5184,"color":"#7b1113","opacity":1},
 "encoding":{"x":{"datum":1963.36,"type":"quantitative"},"y":{"datum":95.5,"type":"quantitative"}}},
{"mark":{"type":"text","fontSize":48,"fontWeight":"bold","color":"#7b1113","align":"left","baseline":"middle"},
 "encoding":{"x":{"datum":1964.14,"type":"quantitative"},"y":{"datum":95.73,"type":"quantitative"},"text":{"value":"ADVISOR"}}},
{"mark":{"type":"text","fontSize":47,"color":"#b39145","align":"left","baseline":"middle"},
 "encoding":{"x":{"datum":1964.14,"type":"quantitative"},"y":{"datum":95.12,"type":"quantitative"},"text":{"value":"PERSPECTIVES"}}}
]
}
